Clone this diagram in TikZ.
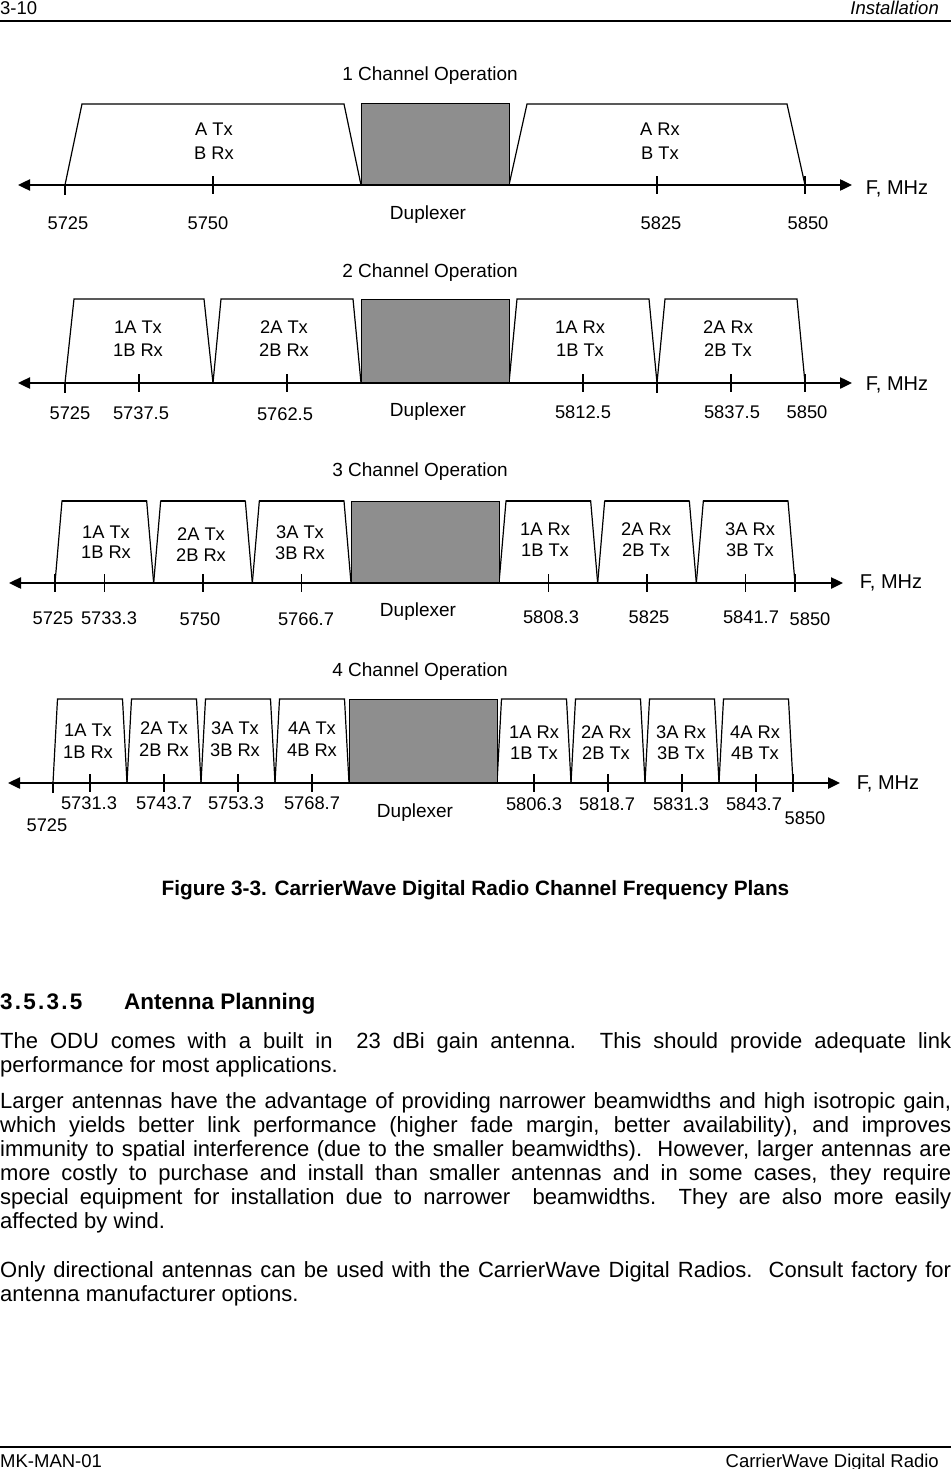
\documentclass[tikz,border=0pt]{standalone}
\usepackage{fontspec}
\setmainfont{Liberation Sans}
\usetikzlibrary{arrows.meta}
\definecolor{dupgray}{RGB}{142,142,142}
\newcommand\bandtrap[6]{%
  \draw[band] ({#1+(#5-5725)*5.92},#2) -- ({#1+(#5-5725)*5.92+#4},#3) -- ({#1+(#6-5725)*5.92-#4},#3) -- ({#1+(#6-5725)*5.92},#2);}
\newcommand\dupbox[3]{%
  \draw[dup] ({#1+50*5.92},#2) rectangle ({#1+75*5.92},#3);}
\newcommand\ctick[3]{\draw[tickline] ({#1+(#3-5725)*5.92},#2-9) -- ({#1+(#3-5725)*5.92},#2+9);}
\newcommand\btick[3]{\draw[tickline] ({#1+(#3-5725)*5.92},#2) -- ({#1+(#3-5725)*5.92},#2+10);}
\begin{document}
\begin{tikzpicture}[x=1pt,y=-1pt,
  t/.style={font=\fontsize{18.3}{20}\selectfont, inner sep=0pt, text height=13pt, text depth=0pt},
  tt/.style={font=\fontsize{19}{21}\selectfont, inner sep=0pt, text height=13.5pt, text depth=0pt},
  fm/.style={font=\fontsize{20}{22}\selectfont, inner sep=0pt, text height=14.3pt, text depth=0pt},
  band/.style={line width=1.2pt, line join=miter},
  dup/.style={fill=dupgray, draw=black, line width=1pt},
  tickline/.style={line width=1.3pt},
  axis/.style={line width=2.4pt, {Triangle[length=12pt,width=11pt]}-{Triangle[length=12pt,width=11pt]}},
  rule/.style={line width=1.4pt},
  hdr/.style={font=\fontsize{18.5}{20}\selectfont, inner sep=0pt},
  body/.style={font=\fontsize{22}{24}\selectfont, inner sep=0pt, anchor=base west}
]
\useasboundingbox (0,0) rectangle (951,1469);

% header / footer
\node[hdr, anchor=base west] (hl) at (0,15) {3-10};
\node[hdr, anchor=base east] (hr) at (939,15) {\itshape Installation};
\coordinate (hl1) at (0,21); \coordinate (hl2) at (951,21);
\draw[rule] (hl1) -- (hl2);
\coordinate (fl1) at (0,1447); \coordinate (fl2) at (951,1447);
\draw[rule] (fl1) -- (fl2);
\node[hdr, anchor=base west] (fleft) at (0,1467) {MK-MAN-01};
\node[hdr, anchor=base east] (fright) at (939,1467) {CarrierWave Digital Radio};

% ---------- Panel 1 ----------
\node[tt] (p1title) at (430,74) {1 Channel Operation};
\bandtrap{65}{185}{104}{17}{5725}{5775}
\bandtrap{65}{185}{104}{18}{5800}{5850}
\dupbox{65}{104}{185}
\coordinate (a1l) at (18,185); \coordinate (a1r) at (852,185);
\draw[axis] (a1l) -- (a1r);
\btick{65}{185}{5725} \ctick{65}{185}{5750} \ctick{65}{185}{5825} \ctick{65}{185}{5850}
\node[t] (p1a) at (214,129) {A Tx};
\node[t] (p1b) at (214,153) {B Rx};
\node[t] (p1c) at (660,129) {A Rx};
\node[t] (p1d) at (660,153) {B Tx};
\node[t] (p1n1) at (68,223) {5725};
\node[t] (p1n2) at (208,223) {5750};
\node[tt] (p1dup) at (428,213) {Duplexer};
\node[t] (p1n3) at (661,223) {5825};
\node[t] (p1n4) at (808,223) {5850};
\node[fm] (p1f) at (897,187) {F, MHz};

% ---------- Panel 2 ----------
\node[tt] (p2title) at (430,271) {2 Channel Operation};
\bandtrap{65}{383}{299}{9}{5725}{5750}
\bandtrap{65}{383}{299}{8}{5750}{5775}
\bandtrap{65}{383}{299}{8}{5800}{5825}
\bandtrap{65}{383}{299}{8}{5825}{5850}
\dupbox{65}{299}{383}
\coordinate (a2l) at (18,383); \coordinate (a2r) at (852,383);
\draw[axis] (a2l) -- (a2r);
\btick{65}{383}{5725} \ctick{65}{383}{5737.5} \ctick{65}{383}{5762.5}
\ctick{65}{383}{5812.5} \btick{65}{383}{5825} \ctick{65}{383}{5837.5} \ctick{65}{383}{5850}
\node[t] (p2a) at (138,327) {1A Tx};
\node[t] (p2b) at (138,350) {1B Rx};
\node[t] (p2c) at (284,327) {2A Tx};
\node[t] (p2d) at (284,350) {2B Rx};
\node[t] (p2e) at (580,327) {1A Rx};
\node[t] (p2f) at (580,350) {1B Tx};
\node[t] (p2g) at (728,327) {2A Rx};
\node[t] (p2h) at (728,350) {2B Tx};
\node[t] (p2n1) at (70,413) {5725};
\node[t] (p2n2) at (141,413) {5737.5};
\node[t] (p2n3) at (285,414) {5762.5};
\node[tt] (p2dup) at (428,410) {Duplexer};
\node[t] (p2n4) at (583,412) {5812.5};
\node[t] (p2n5) at (732,412) {5837.5};
\node[t] (p2n6) at (807,412) {5850};
\node[fm] (p2fm) at (897,383) {F, MHz};

% ---------- Panel 3 ----------
\node[tt] (p3title) at (420,470) {3 Channel Operation};
\foreach \fa/\fb in {5725/5741.667,5741.667/5758.333,5758.333/5775,5800/5816.667,5816.667/5833.333,5833.333/5850}{
  \bandtrap{55}{583}{501}{7}{\fa}{\fb}
  \draw[line width=2.4pt] ({55+(\fa-5725)*5.92+7},501) -- ({55+(\fb-5725)*5.92-7},501);
}
\dupbox{55}{501}{583}
\coordinate (a3l) at (9,583); \coordinate (a3r) at (843,583);
\draw[axis] (a3l) -- (a3r);
\foreach \f in {5725,5733.333,5750,5766.667,5808.333,5825,5841.667,5850}{\ctick{55}{583}{\f}}
\node[t] (p3a) at (106,532) {1A Tx};
\node[t] (p3b) at (106,552) {1B Rx};
\node[t] (p3c) at (201,534) {2A Tx};
\node[t] (p3d) at (201,555) {2B Rx};
\node[t] (p3e) at (300,532) {3A Tx};
\node[t] (p3f) at (300,553) {3B Rx};
\node[t] (p3g) at (545,529) {1A Rx};
\node[t] (p3h) at (545,550) {1B Tx};
\node[t] (p3i) at (646,529) {2A Rx};
\node[t] (p3j) at (646,550) {2B Tx};
\node[t] (p3k) at (750,529) {3A Rx};
\node[t] (p3l) at (750,550) {3B Tx};
\node[t] (p3n1) at (53,618) {5725};
\node[t] (p3n2) at (109,618) {5733.3};
\node[t] (p3n3) at (200,619) {5750};
\node[t] (p3n4) at (306,619) {5766.7};
\node[tt] (p3dup) at (418,610) {Duplexer};
\node[t] (p3n5) at (551,617) {5808.3};
\node[t] (p3n6) at (649,617) {5825};
\node[t] (p3n7) at (751,617) {5841.7};
\node[t] (p3n8) at (810,619) {5850};
\node[fm] (p3fm) at (891,581) {F, MHz};

% ---------- Panel 4 ----------
\node[tt] (p4title) at (420,670) {4 Channel Operation};
\foreach \fa/\fb in {5725/5737.5,5737.5/5750,5750/5762.5,5762.5/5775,5800/5812.5,5812.5/5825,5825/5837.5,5837.5/5850}{
  \bandtrap{53}{783}{699}{4.5}{\fa}{\fb}
}
\dupbox{53}{699}{783}
\coordinate (a4l) at (8,783); \coordinate (a4r) at (840,783);
\draw[axis] (a4l) -- (a4r);
\btick{53}{783}{5725}
\foreach \f in {5731.25,5743.75,5756.25,5768.75,5806.25,5818.75,5831.25,5843.75,5850}{\ctick{53}{783}{\f}}
\node[t] (p4a) at (88,730) {1A Tx};
\node[t] (p4b) at (88,752) {1B Rx};
\node[t] (p4c) at (164,728) {2A Tx};
\node[t] (p4d) at (164,750) {2B Rx};
\node[t] (p4e) at (235,728) {3A Tx};
\node[t] (p4f) at (235,750) {3B Rx};
\node[t] (p4g) at (312,728) {4A Tx};
\node[t] (p4h) at (312,750) {4B Rx};
\node[t] (p4i) at (534,732) {1A Rx};
\node[t] (p4j) at (534,753) {1B Tx};
\node[t] (p4k) at (606,732) {2A Rx};
\node[t] (p4l) at (606,753) {2B Tx};
\node[t] (p4m) at (681,732) {3A Rx};
\node[t] (p4n) at (681,753) {3B Tx};
\node[t] (p4o) at (755,732) {4A Rx};
\node[t] (p4p) at (755,753) {4B Tx};
\node[t] (p4n1) at (89,803) {5731.3};
\node[t] (p4n2) at (164,803) {5743.7};
\node[t] (p4n3) at (236,803) {5753.3};
\node[t] (p4n4) at (312,803) {5768.7};
\node[tt] (p4dup) at (415,811) {Duplexer};
\node[t] (p4n5) at (534,804) {5806.3};
\node[t] (p4n6) at (607,804) {5818.7};
\node[t] (p4n7) at (681,804) {5831.3};
\node[t] (p4n8) at (754,804) {5843.7};
\node[t] (p4n9) at (805,818) {5850};
\node[t] (p4n0) at (47,825) {5725};
\node[fm] (p4fm) at (888,782) {F, MHz};

% ---------- caption and text ----------
\node[font=\bfseries\fontsize{20.8}{24}\selectfont, inner sep=0pt, anchor=base] (cap) at (475.5,895) {Figure 3-3. CarrierWave Digital Radio Channel Frequency Plans};
\node[font=\bfseries\fontsize{22.5}{26}\selectfont\addfontfeature{LetterSpace=10}, inner sep=0pt, anchor=base west] (hnum) at (0,1009) {3.5.3.5};
\node[font=\bfseries\fontsize{22.5}{26}\selectfont, inner sep=0pt, anchor=base west] (htxt) at (124,1009) {Antenna Planning};

\node[body] (b1) at (0,1048) {\makebox[951pt][s]{The ODU comes with a built in\ \ 23 dBi gain antenna.\ \ This should provide adequate link}};
\node[body] (b2) at (0,1072) {performance for most applications.};
\node[body] (b3) at (0,1108) {\makebox[951pt][s]{Larger antennas have the advantage of providing narrower beamwidths and high isotropic gain,}};
\node[body] (b4) at (0,1132) {\makebox[951pt][s]{which yields better link performance (higher fade margin, better availability), and improves}};
\node[body] (b5) at (0,1156) {\makebox[951pt][s]{immunity to spatial interference (due to the smaller beamwidths).\ \ However, larger antennas are}};
\node[body] (b6) at (0,1180) {\makebox[951pt][s]{more costly to purchase and install than smaller antennas and in some cases, they require}};
\node[body] (b7) at (0,1204) {\makebox[951pt][s]{special equipment for installation due to narrower\ \ beamwidths.\ \ They are also more easily}};
\node[body] (b8) at (0,1228) {affected by wind.};
\node[body] (b9) at (0,1277) {\makebox[951pt][s]{Only directional antennas can be used with the CarrierWave Digital Radios.\ \ Consult factory for}};
\node[body] (b10) at (0,1301) {antenna manufacturer options.};
\end{tikzpicture}
\end{document}
